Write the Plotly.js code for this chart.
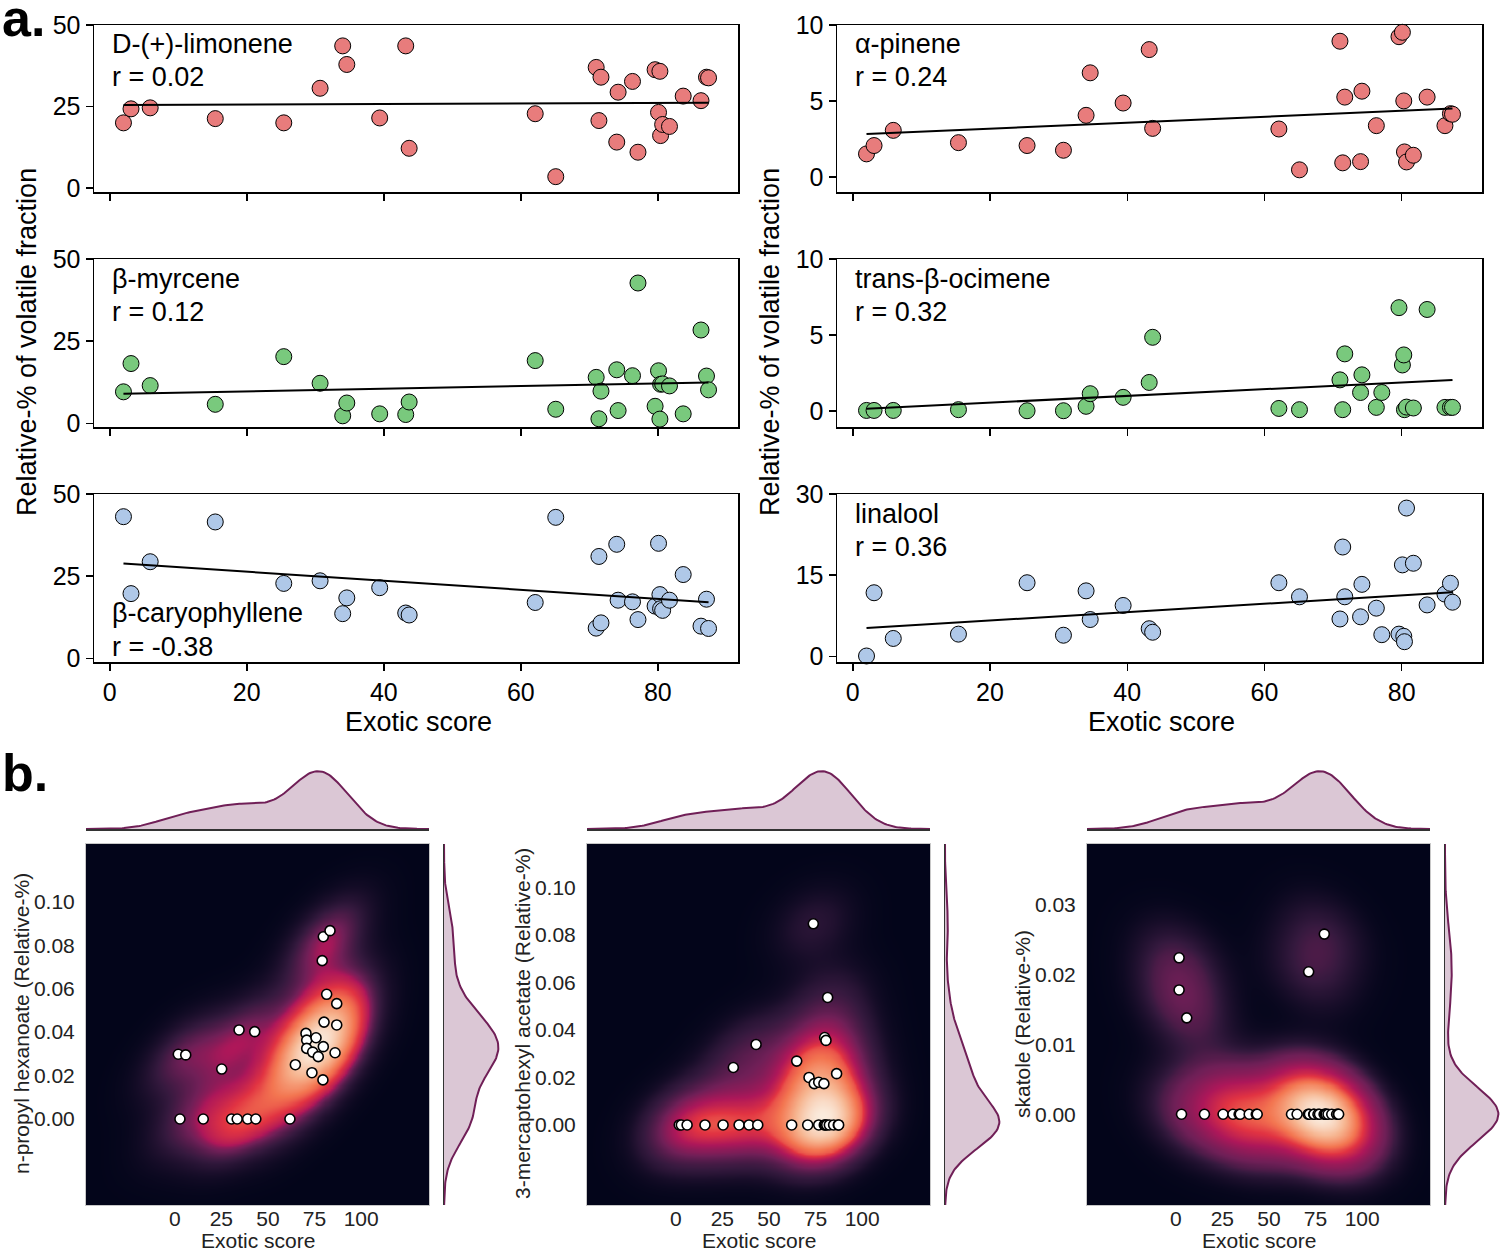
<!DOCTYPE html>
<html><head><meta charset="utf-8">
<script src="https://cdn.plot.ly/plotly-3.0.1.min.js"></script>
<style>html,body{margin:0;padding:0;background:#fff}#chart{width:1500px;height:1254px}</style>
</head><body><div id="chart"></div>
<script>
// ---------- Panel a data (shared exotic scores of the 30 samples) ----------
const exoticScore = [2.0, 3.1, 5.9, 15.4, 25.4, 30.7, 34.0, 34.6, 39.4, 43.2, 43.7, 62.1, 65.1, 71.0, 71.4, 71.7, 74.0, 74.2, 76.3, 77.1, 79.6, 80.1, 80.3, 80.4, 80.7, 81.7, 83.7, 86.3, 87.1, 87.4];
const limonene = [20.0, 24.3, 24.6, 21.3, 20.0, 30.6, 43.6, 37.9, 21.5, 43.6, 12.2, 22.8, 3.5, 37.0, 20.7, 34.0, 14.1, 29.4, 32.7, 11.0, 36.3, 23.2, 35.8, 16.1, 19.5, 18.9, 28.2, 26.8, 34.0, 33.8];
const alphaPinene = [1.51, 2.06, 3.06, 2.25, 2.06, 1.75, 4.05, 6.85, 4.86, 8.38, 3.19, 3.15, 0.46, 8.93, 0.92, 5.25, 1.0, 5.64, 3.37, null, 9.23, 9.52, 5.0, 1.64, 0.98, 1.42, 5.25, 3.37, 4.16, 4.12];
const myrcene = [9.6, 18.2, 11.5, 5.8, 20.3, 12.2, 2.3, 6.2, 2.9, 2.7, 6.5, 19.1, 4.3, 14.0, 1.4, 9.8, 16.3, 3.9, 14.5, 42.7, 5.2, 16.0, 1.3, 11.9, 12.0, 11.4, 2.9, 28.4, 14.4, 10.2];
const ocimene = [0.04, 0.04, 0.04, 0.09, 0.02, 0.02, 0.31, 1.14, 0.9, 1.88, 4.85, 0.17, 0.09, 2.05, 0.09, 3.76, 1.22, 2.38, 0.24, 1.22, 6.8, 3.03, 3.69, 0.09, 0.26, 0.2, 6.68, 0.24, 0.24, 0.24];
const caryophyllene = [43.1, 19.7, 29.4, 41.5, 22.8, 23.6, 13.6, 18.4, 21.5, 13.8, 13.2, 17.0, 42.9, 9.2, 31.0, 10.8, 34.7, 17.7, 17.2, 11.8, 15.9, 35.0, 19.4, 15.1, 14.6, 17.7, 25.5, 9.8, 18.0, 9.1];
const linalool = [0.06, 11.75, 3.3, 4.1, 13.6, 3.9, 12.1, 6.8, 9.4, 5.1, 4.45, 13.6, 11.0, 6.9, 20.2, 11.0, 7.3, 13.3, 8.9, 4.0, 4.1, 16.9, 3.7, 2.7, 27.4, 17.2, 9.5, 11.5, 13.5, 10.0];
const compoundNames = ['D-(+)-limonene', 'α-pinene', 'β-myrcene', 'trans-β-ocimene', 'β-caryophyllene', 'linalool'];
const rLabels = ['r = 0.02', 'r = 0.24', 'r = 0.12', 'r = 0.32', 'r = -0.38', 'r = 0.36'];

// ---------- Panel b data ----------
const hexanoateScore = [1.9, 5.9, 2.8, 15.3, 25.2, 30.5, 33.5, 34.5, 39.1, 42.9, 43.5, 61.8, 64.7, 70.4, 70.8, 70.8, 73.6, 74.0, 75.8, 77.0, 79.1, 79.5, 79.7, 79.7, 80.1, 81.5, 83.3, 86.0, 86.9, 86.9];
const hexanoate = [0.0298, 0.0295, 0, 0, 0.023, 0, 0, 0.041, 0, 0.0402, 0, 0, 0.025, 0.0394, 0.0363, 0.0325, 0.0213, 0.0308, 0.0374, 0.0287, 0.0729, 0.018, 0.0839, 0.0333, 0.0446, 0.0574, 0.0867, 0.0305, 0.0531, 0.0433];
const mhaScore = [73.8, 81.5, 79.9, 80.6, 43.1, 64.9, 30.9, 86.3, 71.5, 74.3, 76.7, 79.5, 1.9, 3.0, 6.1, 15.7, 25.4, 34.0, 39.3, 44.0, 62.2, 70.8, 76.7, 79.7, 80.3, 81.0, 82.4, 84.7, 87.2, 87.4];
const mha = [0.0847, 0.0537, 0.0368, 0.0356, 0.0339, 0.0269, 0.0242, 0.0216, 0.02, 0.0174, 0.018, 0.0174, 0, 0, 0, 0, 0, 0, 0, 0, 0, 0, 0, 0, 0, 0, 0, 0, 0, 0];
const skatoleScore = [1.8, 1.8, 5.9, 71.3, 79.7, 3.1, 15.4, 25.4, 30.7, 34.0, 34.6, 39.4, 43.2, 43.7, 62.1, 65.1, 71.0, 71.7, 74.0, 74.2, 76.3, 77.1, 79.6, 80.3, 80.4, 80.7, 81.7, 83.7, 86.3, 87.1, 87.4];
const skatole = [0.0224, 0.0178, 0.0138, 0.0204, 0.0258, 0, 0, 0, 0, 0, 0, 0, 0, 0, 0, 0, 0, 0, 0, 0, 0, 0, 0, 0, 0, 0, 0, 0, 0, 0, 0];
const jointLabels = ['n-propyl hexanoate (Relative-%)', '3-mercaptohexyl acetate (Relative-%)', 'skatole (Relative-%)'];

// ---------- helpers ----------
const W = 1500, H = 1254;
const fx = p => p / W, fy = p => 1 - p / H;
const FONT = 'Liberation Sans, Arial, Helvetica, sans-serif';
const mean = a => a.reduce((s, v) => s + v, 0) / a.length;
function cov(a, b) { const ma = mean(a), mb = mean(b); let s = 0; for (let i = 0; i < a.length; i++) s += (a[i] - ma) * (b[i] - mb); return s / (a.length - 1); }
function linfit(x, y) {
  const xs = [], ys = [];
  x.forEach((v, i) => { if (y[i] !== null && y[i] !== undefined) { xs.push(v); ys.push(y[i]); } });
  const m = cov(xs, ys) / cov(xs, xs);
  return { m, b: mean(ys) - m * mean(xs), x0: Math.min(...xs), x1: Math.max(...xs) };
}
function linspace(a, b, n) { const o = []; for (let i = 0; i < n; i++) o.push(a + (b - a) * i / (n - 1)); return o; }
function kde1(d, grid) {
  const n = d.length, bw = Math.sqrt(cov(d, d)) * Math.pow(n, -0.2);
  return grid.map(g => { let s = 0; for (const v of d) { const u = (g - v) / bw; s += Math.exp(-0.5 * u * u); } return s / (n * bw * Math.sqrt(2 * Math.PI)); });
}
function kde2(xs, ys, gx, gy) {
  const n = xs.length, f2 = Math.pow(n, -1 / 3);
  const sxx = cov(xs, xs) * f2, syy = cov(ys, ys) * f2, sxy = cov(xs, ys) * f2;
  const det = sxx * syy - sxy * sxy, ia = syy / det, ib = -sxy / det, ic = sxx / det;
  const norm = 1 / (n * 2 * Math.PI * Math.sqrt(det));
  return gy.map(y => gx.map(x => { let s = 0; for (let i = 0; i < n; i++) { const dx = x - xs[i], dy = y - ys[i]; s += Math.exp(-0.5 * (ia * dx * dx + 2 * ib * dx * dy + ic * dy * dy)); } return s * norm; }));
}
// iso-proportion transform (mass below each density value), as seaborn levels do
function isoProp(z) {
  const flat = []; z.forEach(r => r.forEach(v => flat.push(v)));
  const idx = flat.map((v, i) => i).sort((a, b) => flat[a] - flat[b]);
  const tot = flat.reduce((s, v) => s + v, 0);
  const q = new Array(flat.length); let c = 0;
  for (const i of idx) { c += flat[i]; q[i] = c / tot; }
  const nx = z[0].length;
  return z.map((r, j) => r.map((v, i) => q[j * nx + i]));
}
const rocket = [[0, '#03051a'], [0.143, '#35193e'], [0.286, '#701f57'], [0.429, '#ad1759'], [0.571, '#e13342'], [0.714, '#f37651'], [0.857, '#f6b48f'], [1, '#faebdd']];

const traces = [], annotations = [];
const layout = {
  width: W, height: H, margin: { l: 0, r: 0, t: 0, b: 0 },
  paper_bgcolor: '#fff', plot_bgcolor: '#fff', showlegend: false,
  font: { family: FONT, color: '#000' }
};
const txt = (x, y, text, size, extra) => Object.assign({ xref: 'paper', yref: 'paper', x: fx(x), y: fy(y), xanchor: 'center', yanchor: 'middle', text, showarrow: false, font: { size, family: FONT, color: '#000' } }, extra || {});

// ---------- Panel a ----------
const seriesA = [limonene, alphaPinene, myrcene, ocimene, caryophyllene, linalool];
const colorsA = ['#E87C7C', '#E87C7C', '#79C97D', '#79C97D', '#AFC8E8', '#AFC8E8'];
const colsPx = [[94, 738], [837, 1482]];
const rowsPx = [[25, 192], [259, 427], [494, 662]];
const yRanges = [[-1.2, 50], [-1, 10], [-1.1, 50], [-1.05, 10], [-1.1, 50], [-1.05, 30]];
const yTicks = [[0, 25, 50], [0, 5, 10], [0, 25, 50], [0, 5, 10], [0, 25, 50], [0, 15, 30]];
const labelY = [[44, 77], [44, 77], [279, 312], [279, 312], [613, 647], [514, 547]];
for (let k = 0; k < 6; k++) {
  const col = k % 2, row = Math.floor(k / 2), id = k + 1;
  layout['xaxis' + id] = {
    domain: [fx(colsPx[col][0]), fx(colsPx[col][1])], anchor: 'y' + id, range: [-2.3, 91.7],
    tickvals: [0, 20, 40, 60, 80], showticklabels: row === 2, ticks: 'outside', ticklen: 7, tickwidth: 1.5, tickcolor: '#000',
    showline: true, mirror: true, linecolor: '#000', linewidth: 1.5, showgrid: false, zeroline: false,
    tickfont: { size: 25, family: FONT, color: '#000' }
  };
  layout['yaxis' + id] = {
    domain: [fy(rowsPx[row][1]), fy(rowsPx[row][0])], anchor: 'x' + id, range: yRanges[k],
    tickvals: yTicks[k], ticks: 'outside', ticklen: 7, tickwidth: 1.5, tickcolor: '#000',
    showline: true, mirror: true, linecolor: '#000', linewidth: 1.5, showgrid: false, zeroline: false,
    tickfont: { size: 25, family: FONT, color: '#000' }
  };
  traces.push({
    type: 'scatter', mode: 'markers', x: exoticScore, y: seriesA[k], xaxis: 'x' + id, yaxis: 'y' + id,
    marker: { size: 16, color: colorsA[k], line: { color: '#000', width: 1 } }, cliponaxis: false
  });
  const fit = linfit(exoticScore, seriesA[k]);
  traces.push({
    type: 'scatter', mode: 'lines', x: [fit.x0, fit.x1], y: [fit.b + fit.m * fit.x0, fit.b + fit.m * fit.x1],
    xaxis: 'x' + id, yaxis: 'y' + id, line: { color: '#000', width: 2 }
  });
  const lx = col === 0 ? 110 : 853;
  annotations.push(txt(lx, labelY[k][0], compoundNames[k], 27, { xanchor: 'left' }));
  annotations.push(txt(lx, labelY[k][1], rLabels[k], 27, { xanchor: 'left' }));
}
annotations.push(txt(27, 342, 'Relative-% of volatile fraction', 27, { textangle: -90 }));
annotations.push(txt(770, 342, 'Relative-% of volatile fraction', 27, { textangle: -90 }));
annotations.push(txt(418, 722, 'Exotic score', 27));
annotations.push(txt(1161, 722, 'Exotic score', 27));
annotations.push(txt(0, 18, '<b>a.</b>', 52, { xanchor: 'left' }));
annotations.push(txt(0, 773, '<b>b.</b>', 52, { xanchor: 'left' }));

// ---------- Panel b ----------
const jointX = [hexanoateScore, mhaScore, skatoleScore];
const jointY = [hexanoate, mha, skatole];
const heatLeft = [86, 587, 1087];
const heatW = 343;
const heatTop = 844, heatBot = 1205;
const margTop = 770, margBot = 829;
const jointXRange = [-47.6, 136.4];
const jointYRanges = [[-0.0396, 0.1266], [-0.0337, 0.1183], [-0.0130, 0.0387]];
const jointYTicks = [[0, 0.02, 0.04, 0.06, 0.08, 0.10], [0, 0.02, 0.04, 0.06, 0.08, 0.10], [0, 0.01, 0.02, 0.03]];
const margLine = '#701f57', margFill = 'rgba(112,31,87,0.25)';
for (let j = 0; j < 3; j++) {
  const hid = 7 + j, tid = 10 + j, rid = 13 + j;
  const L = heatLeft[j], R = L + heatW;
  const yr = jointYRanges[j];
  const gx = linspace(jointXRange[0], jointXRange[1], 170);
  const gy = linspace(yr[0], yr[1], 170);
  const z = isoProp(kde2(jointX[j], jointY[j], gx, gy));
  layout['xaxis' + hid] = {
    domain: [fx(L), fx(R)], anchor: 'y' + hid, range: jointXRange, tickvals: [0, 25, 50, 75, 100],
    ticks: '', ticklen: 0, showgrid: false, zeroline: false, showline: true, mirror: true, linecolor: '#c8c8c8', linewidth: 1,
    tickfont: { size: 21, family: FONT, color: '#222' }, ticklabelstandoff: -5
  };
  layout['yaxis' + hid] = {
    domain: [fy(heatBot), fy(heatTop)], anchor: 'x' + hid, range: yr, tickvals: jointYTicks[j], tickformat: '.2f',
    ticks: '', ticklen: 0, showgrid: false, zeroline: false, showline: true, mirror: true, linecolor: '#c8c8c8', linewidth: 1,
    tickfont: { size: 21, family: FONT, color: '#222' }, ticklabelstandoff: 6
  };
  traces.push({ type: 'heatmap', x: gx, y: gy, z: z, zmin: 0, zmax: 1, colorscale: rocket, zsmooth: 'best', showscale: false, xaxis: 'x' + hid, yaxis: 'y' + hid, hoverinfo: 'skip' });
  traces.push({ type: 'scatter', mode: 'markers', x: jointX[j], y: jointY[j], xaxis: 'x' + hid, yaxis: 'y' + hid, marker: { size: 10, color: '#fff', line: { color: '#000', width: 1.6 } } });

  // top marginal
  const mgx = linspace(jointXRange[0], jointXRange[1], 200);
  const dx = kde1(jointX[j], mgx);
  layout['xaxis' + tid] = { domain: [fx(L), fx(R)], anchor: 'y' + tid, range: jointXRange, showticklabels: false, ticks: '', showgrid: false, zeroline: false, showline: true, linecolor: '#333', linewidth: 1.5 };
  layout['yaxis' + tid] = { domain: [fy(margBot), fy(margTop)], anchor: 'x' + tid, range: [0, Math.max(...dx) * 1.02], visible: false };
  traces.push({ type: 'scatter', mode: 'lines', x: mgx, y: dx, fill: 'tozeroy', fillcolor: margFill, line: { color: margLine, width: 2 }, xaxis: 'x' + tid, yaxis: 'y' + tid });

  // right marginal
  const mgy = linspace(yr[0], yr[1], 200);
  const dy = kde1(jointY[j], mgy);
  const rl = R + 15, rr = R + 71;
  layout['xaxis' + rid] = { domain: [fx(rl), fx(Math.min(rr, W))], anchor: 'y' + rid, range: [0, Math.max(...dy) * 1.03], visible: false };
  layout['yaxis' + rid] = { domain: [fy(heatBot), fy(heatTop)], anchor: 'x' + rid, range: yr, showticklabels: false, ticks: '', showgrid: false, zeroline: false, showline: true, linecolor: '#333', linewidth: 1.5 };
  traces.push({ type: 'scatter', mode: 'lines', x: dy, y: mgy, fill: 'tozerox', fillcolor: margFill, line: { color: margLine, width: 2 }, xaxis: 'x' + rid, yaxis: 'y' + rid });

  const cx = (L + R) / 2;
  annotations.push(txt(cx, 1254, 'Exotic score', 21, { yanchor: 'bottom', font: { size: 21, family: FONT, color: '#222' } }));
  annotations.push(txt(L - 65, 1024, jointLabels[j], 21, { textangle: -90, font: { size: 21, family: FONT, color: '#222' } }));
}
layout.annotations = annotations;
Plotly.newPlot('chart', traces, layout, { staticPlot: true });
</script>
</body></html>
